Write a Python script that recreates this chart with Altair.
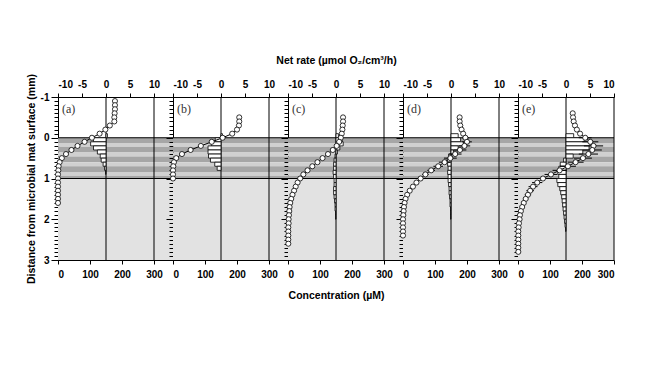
import altair as alt
import pandas as pd

# ---------------- data ----------------
panel_labels = ["(a)", "(b)", "(c)", "(d)", "(e)"]

# O2 concentration profiles (µM) vs depth (mm)
depth_a = [-0.9, -0.8, -0.7, -0.6, -0.5, -0.4, -0.3, -0.2, -0.1, 0.0, 0.1, 0.2, 0.3,
           0.4, 0.5, 0.6, 0.7, 0.8, 0.9, 1.0, 1.1, 1.2, 1.3, 1.4, 1.5, 1.6]
conc_a = [178, 178, 178, 177, 176, 176, 162, 148, 130, 106, 83, 61, 42,
          25, 12, 5, 2, 1, 0, 0, 0, 0, 0, 0, 0, 0]
err_a = [0, 0, 0, 0, 0, 0, 0, 0, 0, 0, 0, 0, 0,
         0, 0, 0, 0, 0, 0, 0, 0, 0, 0, 0, 0, 0]

depth_b = [-0.5, -0.4, -0.3, -0.2, -0.1, 0.0, 0.1, 0.2, 0.3, 0.4, 0.5, 0.6, 0.7, 0.8, 0.9, 1.0]
conc_b = [207, 207, 206, 200, 185, 155, 121, 87, 55, 28, 10, 3, 1, 0, 0, 0]
err_b = [0, 0, 0, 0, 0, 0, 0, 0, 0, 0, 0, 0, 0, 0, 0, 0]

depth_c = [-0.5, -0.4, -0.3, -0.2, -0.1, 0.0, 0.1, 0.2, 0.3, 0.4, 0.5, 0.6, 0.7, 0.8, 0.9, 1.0,
           1.1, 1.2, 1.3, 1.4, 1.5, 1.6, 1.7, 1.8, 1.9, 2.0, 2.1, 2.2, 2.3, 2.4, 2.5, 2.6]
conc_c = [172, 172, 171, 170, 168, 165, 160, 152, 140, 125, 108, 92, 76, 61, 48, 38,
          30, 24, 19, 14, 10, 7, 5, 4, 3, 2, 2, 1, 1, 1, 1, 1]
err_c = [0, 0, 0, 0, 0, 0, 0, 0, 0, 0, 0, 0, 0, 0, 0, 0,
         0, 0, 0, 0, 0, 0, 0, 0, 0, 0, 0, 0, 0, 0, 0, 0]

depth_d = [-0.5, -0.4, -0.3, -0.2, -0.1, 0.0, 0.1, 0.2, 0.3, 0.4, 0.5, 0.6, 0.7, 0.8, 0.9,
           1.0, 1.1, 1.2, 1.3, 1.4, 1.5, 1.6, 1.7, 1.8, 1.9, 2.0, 2.1, 2.2, 2.3, 2.4]
conc_d = [177, 177, 179, 183, 188, 195, 200, 192, 178, 163, 148, 130, 110, 88, 70,
          55, 42, 31, 21, 13, 8, 5, 3, 2, 1, 0, 0, 0, 0, 0]
err_d = [0, 0, 0, 0, 0, 10, 15, 18, 20, 20, 20, 18, 15, 12, 10,
         8, 0, 0, 0, 0, 0, 0, 0, 0, 0, 0, 0, 0, 0, 0]

depth_e = [-0.6, -0.5, -0.4, -0.3, -0.2, -0.1, 0.0, 0.1, 0.2, 0.3, 0.4, 0.5, 0.6, 0.7, 0.8,
           0.9, 1.0, 1.1, 1.2, 1.3, 1.4, 1.5, 1.6, 1.7, 1.8, 1.9, 2.0, 2.1, 2.2, 2.3, 2.4,
           2.5, 2.6, 2.7, 2.8]
conc_e = [171, 172, 174, 178, 184, 194, 210, 226, 236, 232, 220, 203, 180, 156, 130,
          103, 78, 60, 47, 38, 31, 24, 18, 13, 9, 6, 5, 3, 2, 1, 1,
          1, 1, 1, 1]
err_e = [0, 0, 0, 0, 0, 0, 20, 25, 30, 30, 30, 28, 25, 25, 22,
         20, 18, 16, 14, 12, 10, 8, 0, 0, 0, 0, 0, 0, 0, 0, 0,
         0, 0, 0, 0]

# Net O2 rates (µmol O2/cm3/h), 0.1 mm layers starting at rate_top
rate_top_a = [-0.1, 0.0, 0.1, 0.2, 0.3, 0.4, 0.5, 0.6, 0.7, 0.8]
rate_a = [0.3, -2.6, -3.2, -2.6, -1.8, -1.2, -1.0, -0.6, -0.3, -0.1]

rate_top_b = [-0.1, 0.0, 0.1, 0.2, 0.3, 0.4, 0.5, 0.6, 0.7]
rate_b = [0.3, -1.2, -2.0, -2.7, -2.7, -2.6, -2.2, -1.3, -0.8]

rate_top_c = [-0.1, 0.0, 0.1, 0.2, 0.3, 0.4, 0.5, 0.6, 0.7, 0.8, 0.9, 1.0, 1.1, 1.2,
              1.3, 1.4, 1.5, 1.6, 1.7, 1.8, 1.9]
rate_c = [0.5, 1.3, 1.5, 0.8, 0.3, -0.2, -0.4, -0.5, -0.5, -0.6, -0.5, -0.4, -0.4, -0.5,
          -0.5, -0.4, -0.3, -0.2, -0.2, -0.1, -0.1]

rate_top_d = [-0.1, 0.0, 0.1, 0.2, 0.3, 0.4, 0.5, 0.6, 0.7, 0.8, 0.9, 1.0, 1.1, 1.2,
              1.3, 1.4, 1.5, 1.6, 1.7, 1.8, 1.9]
rate_d = [1.5, 2.0, 2.6, 1.5, 0.5, -0.5, -0.8, -0.7, -0.6, -0.7, -0.6, -0.6, -0.5, -0.4,
          -0.4, -0.3, -0.2, -0.2, -0.1, -0.1, -0.1]

rate_top_e = [-0.1, 0.0, 0.1, 0.2, 0.3, 0.4, 0.5, 0.6, 0.7, 0.8, 0.9, 1.0, 1.1, 1.2,
              1.3, 1.4, 1.5, 1.6, 1.7, 1.8, 1.9, 2.0, 2.1, 2.2]
rate_e = [1.6, 3.8, 5.0, 4.8, 3.5, 1.5, -0.5, -1.2, -1.5, -1.7, -1.5, -1.9, -1.7, -1.3,
          -1.1, -0.9, -0.8, -0.7, -0.6, -0.5, -0.4, -0.3, -0.2, -0.1]

# background layers of the mat (mm)
band_y0 = [0.0, 0.13, 0.22, 0.36, 0.46, 0.60, 0.70, 0.84, 0.93, 1.0]
band_y1 = [0.13, 0.22, 0.36, 0.46, 0.60, 0.70, 0.84, 0.93, 1.0, 3.0]
band_shade = ["#a6a6a6", "#d0d0d0", "#a6a6a6", "#d0d0d0", "#a6a6a6",
              "#d0d0d0", "#a6a6a6", "#d0d0d0", "#a6a6a6", "#e2e2e2"]
boundary_depths = [0.0, 1.0]

conc_ticks = [0, 100, 200, 300]
rate_ticks = [-10, -5, 0, 5, 10]
depth_ticks = [round(-1 + 0.1 * k, 1) for k in range(41)]

profiles = [
    (depth_a, conc_a, err_a, rate_top_a, rate_a),
    (depth_b, conc_b, err_b, rate_top_b, rate_b),
    (depth_c, conc_c, err_c, rate_top_c, rate_c),
    (depth_d, conc_d, err_d, rate_top_d, rate_d),
    (depth_e, conc_e, err_e, rate_top_e, rate_e),
]

FONT = "Liberation Sans"
H = 163
MAJOR = "abs(datum.value - round(datum.value)) < 0.001"

bands_df = pd.DataFrame({"y0": band_y0, "y1": band_y1, "shade": band_shade})
bound_df = pd.DataFrame({"d": boundary_depths})


def make_panel(k):
    depth, conc, err, rtop, rate = profiles[k]
    W = 115 if k < 4 else 96
    cmax = 300 * W / 96
    rmax = -10 + 20 * W / 96

    yscale = alt.Scale(domain=[-1, 3], reverse=True, nice=False, zero=False)
    tick_size = {"condition": {"test": MAJOR, "value": 7}, "value": 4}
    if k == 0:
        yaxis = alt.Axis(values=depth_ticks, tickSize=tick_size,
                         labelExpr=MAJOR + " ? '' + round(datum.value) : ''",
                         labelOverlap=False, labelPadding=2,
                         title="Distance from microbial mat surface (mm)",
                         titlePadding=4)
    else:
        yaxis = alt.Axis(values=depth_ticks, tickSize=tick_size, labels=False, title=None)

    def Y(f):
        return alt.Y(f, type="quantitative", scale=yscale, axis=yaxis)

    cscale = alt.Scale(domain=[0, cmax], nice=False, zero=False)
    if k == 2:
        caxis = alt.Axis(orient="bottom", values=conc_ticks, tickSize=4, labelPadding=5,
                         title="Concentration (µM)", titleX=48, titleAlign="center",
                         titlePadding=11, labelOverlap=False)
    else:
        caxis = alt.Axis(orient="bottom", values=conc_ticks, tickSize=4, labelPadding=5,
                         title=None, labelOverlap=False)

    def XC(f):
        return alt.X(f, type="quantitative", scale=cscale, axis=caxis)

    rscale = alt.Scale(domain=[-10, rmax], nice=False, zero=False)
    rlab = "'' + datum.value"
    if k == 2:
        raxis = alt.Axis(orient="top", values=rate_ticks, tickSize=4, labelPadding=4,
                         labelExpr=rlab, labelOverlap=False,
                         title="Net rate (µmol O₂/cm³/h)", titleX=48, titleAlign="center",
                         titlePadding=14)
    else:
        raxis = alt.Axis(orient="top", values=rate_ticks, tickSize=4, labelPadding=4,
                         labelExpr=rlab, labelOverlap=False, title=None)

    def XR(f):
        return alt.X(f, type="quantitative", scale=rscale, axis=raxis)

    cdf = pd.DataFrame({"depth": depth, "conc": conc, "err": err})
    rdf = pd.DataFrame({"top": rtop, "rate": rate})

    bg = alt.Chart(bands_df).mark_rect(strokeWidth=0).encode(
        y=Y("y0"), y2="y1",
        x=alt.value(0), x2=alt.value(W),
        color=alt.Color("shade:N", scale=None),
    )
    bounds = alt.Chart(bound_df).mark_rule(color="black", strokeWidth=1.2).encode(
        y=Y("d"), x=alt.value(0), x2=alt.value(W)
    )

    zero_rule = alt.Chart(pd.DataFrame({"r": [0]})).mark_rule(color="black", strokeWidth=1).encode(
        x=XR("r")
    )
    bars = alt.Chart(rdf).transform_calculate(
        bot="datum.top + 0.1", z="0"
    ).mark_bar(fill="white", stroke="black", strokeWidth=0.8).encode(
        x=XR("rate"), x2="z:Q", y=Y("top"), y2="bot:Q"
    )
    rate_layer = alt.layer(zero_rule, bars)

    right_rule = alt.Chart(pd.DataFrame({"c": [300]})).mark_rule(color="black", strokeWidth=1).encode(
        x=XC("c")
    )
    errs = alt.Chart(cdf).transform_filter("datum.err > 0").transform_calculate(
        lo="datum.conc - datum.err", hi="datum.conc + datum.err"
    ).mark_rule(color="black", strokeWidth=1).encode(
        x=XC("lo"), x2="hi:Q", y=Y("depth")
    )
    line = alt.Chart(cdf).mark_line(color="black", strokeWidth=1).encode(
        x=XC("conc"), y=Y("depth"), order="depth:Q"
    )
    pts = alt.Chart(cdf).mark_point(shape="circle", filled=True, fill="white",
                                    stroke="black", strokeWidth=0.8, size=26, opacity=1).encode(
        x=XC("conc"), y=Y("depth")
    )
    conc_layer = alt.layer(right_rule, errs, line, pts)

    lab = alt.Chart(pd.DataFrame({"t": [panel_labels[k]]})).mark_text(
        font="Liberation Serif", fontSize=12, align="left", baseline="middle", color="#333"
    ).encode(text="t:N", x=alt.value(4), y=alt.value(12))

    return alt.layer(bg, bounds, rate_layer, conc_layer, lab).resolve_scale(
        x="independent"
    ).properties(width=W, height=H)


panels = [make_panel(k) for k in range(5)]

chart = alt.hconcat(*panels, spacing=0, bounds="flush").properties(
    padding={"left": 18, "top": 47, "right": 5, "bottom": 5}
).configure_view(stroke=None).configure_axis(
    domainColor="black", tickColor="black", labelColor="black", titleColor="black",
    labelFont=FONT, titleFont=FONT, labelFontWeight="bold", titleFontWeight="bold",
    labelFontSize=10, titleFontSize=10.5, grid=False, domainWidth=1, tickWidth=1
)

chart.save("out.html", embed_options={"renderer": "svg", "actions": False})
